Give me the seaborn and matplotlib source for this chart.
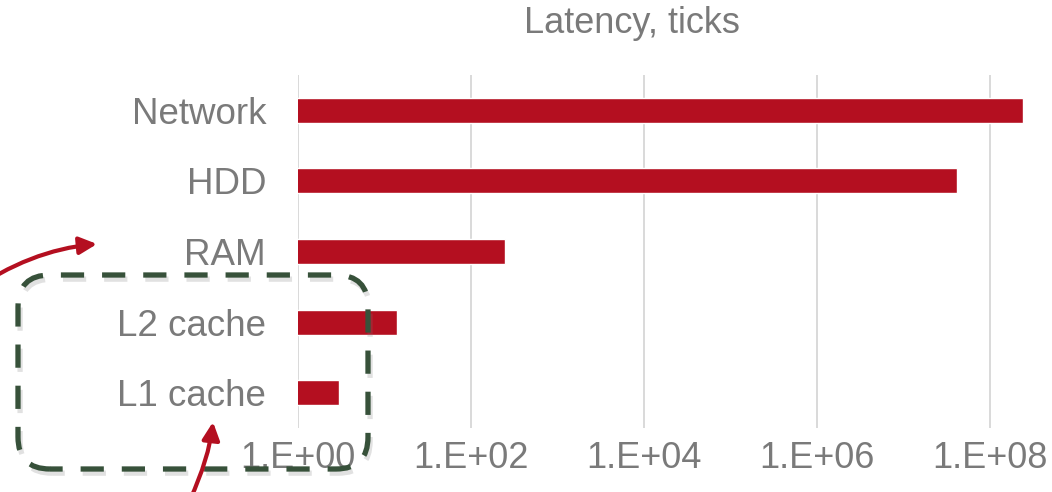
import numpy as np
import pandas as pd
import seaborn as sns
import matplotlib
matplotlib.use("Agg")
import matplotlib.pyplot as plt
from matplotlib.patches import FancyBboxPatch, FancyArrowPatch
from matplotlib.path import Path
from matplotlib.transforms import IdentityTransform
from matplotlib.ticker import FixedLocator, FuncFormatter, NullLocator
import matplotlib.patheffects as pe

# Latency of each storage level, in CPU ticks
categories = ["Network", "HDD", "RAM", "L2 cache", "L1 cache"]
latency_ticks = [240_000_000, 41_000_000, 250, 14, 3]
tick_values = [1e0, 1e2, 1e4, 1e6, 1e8]
title = "Latency, ticks"

BAR_RED = "#B40F20"
TEXT_GRAY = "#7A7A7A"
GRID_GRAY = "#D9D9D9"
BOX_GREEN = "#37513A"

sns.set_theme(style="white")
plt.rcParams["font.family"] = ["Liberation Sans", "DejaVu Sans"]

W, H, DPI = 1052, 492, 100
fig = plt.figure(figsize=(W / DPI, H / DPI), dpi=DPI)
ax = fig.add_axes([298 / W, 1 - 428 / H, (W - 298) / W, (428 - 75) / H])

df = pd.DataFrame({"level": categories, "ticks": latency_ticks})
sns.barplot(data=df, x="ticks", y="level", orient="h", color=BAR_RED,
            saturation=1, width=0.354, log_scale=True, ax=ax, zorder=3)
# bars start at zero, so clip rather than mask non-positive values
ax.set_xscale("log", nonpositive="clip")

ax.set_xlim(1, 10 ** (754 / 86.5))
ax.set_ylim(4.5, -0.5)
ax.xaxis.set_major_locator(FixedLocator(tick_values))
ax.xaxis.set_minor_locator(NullLocator())
ax.xaxis.set_major_formatter(
    FuncFormatter(lambda v, _: f"1.E+{int(round(np.log10(v))):02d}"))
ax.grid(axis="x", color=GRID_GRAY, linewidth=1.4, zorder=0)
ax.grid(axis="y", visible=False)
ax.set_axisbelow(True)
for s in ax.spines.values():
    s.set_visible(False)
ax.set_xlabel("")
ax.set_ylabel("")
ax.tick_params(axis="x", length=0, pad=9, labelsize=26, labelcolor=TEXT_GRAY)
ax.tick_params(axis="y", length=0, pad=23, labelsize=26.5, labelcolor=TEXT_GRAY)

fig.text(632 / W, 1 - 33 / H, title, ha="center", va="baseline",
         fontsize=26, color=TEXT_GRAY)

# Dashed rounded frame around the cache levels (pixel coordinates)
def px(x, y):
    return (x, H - y)

x0, y0 = px(18, 469)
frame = FancyBboxPatch((x0, y0), 368 - 18, 469 - 275,
                       boxstyle="round,pad=0,rounding_size=32",
                       transform=IdentityTransform(), fill=False,
                       edgecolor=BOX_GREEN, linewidth=3.8,
                       linestyle=(2.0, (4.4, 3.4)), zorder=10)
frame.set_path_effects([
    pe.SimpleLineShadow(offset=(1.5, -3), shadow_color="#777777", alpha=0.22),
    pe.Normal()])
fig.add_artist(frame)

# Curved red arrows
def curved_arrow(p0, c, p2):
    path = Path([px(*p0), px(*c), px(*p2)],
                [Path.MOVETO, Path.CURVE3, Path.CURVE3])
    arr = FancyArrowPatch(path=path, transform=IdentityTransform(),
                          arrowstyle="-|>,head_length=10.5,head_width=5.2",
                          mutation_scale=1, color=BAR_RED, linewidth=3,
                          zorder=12)
    fig.add_artist(arr)

curved_arrow((-30, 292), (30, 250), (97, 244))
curved_arrow((190, 500), (209, 458), (213, 422))

fig.savefig("out.png", dpi=DPI)
